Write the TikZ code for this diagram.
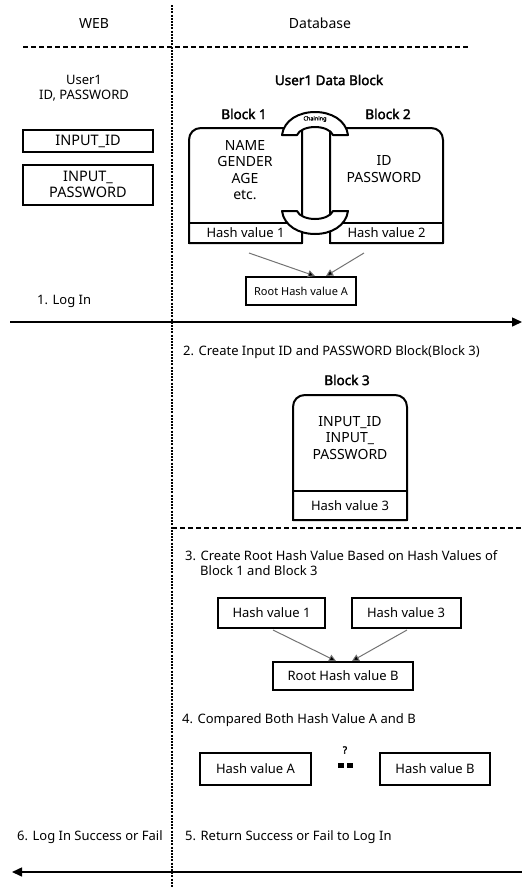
\documentclass[tikz,border=0pt]{standalone}
\usepackage{fontspec}
\setmainfont{Noto Sans}[AutoFakeBold=2.2]
\usetikzlibrary{arrows.meta}
\begin{document}
\begin{tikzpicture}[x=1pt,y=-1pt,
  txt/.style={font=\fontsize{13}{15}\selectfont, inner sep=0pt},
  head/.style={font=\fontsize{14}{16}\selectfont, inner sep=0pt},
  btxt/.style={font=\fontsize{14}{16.5}\selectfont, inner sep=0pt, align=center},
  box/.style={draw, line width=2pt, inner sep=0pt, font=\fontsize{13}{15}\selectfont, align=center},
  bigbox/.style={draw, line width=2pt, inner sep=0pt, font=\fontsize{14.5}{17}\selectfont, align=center},
  outline/.style={line width=2pt, line join=round},
  sepv/.style={line width=1.3pt, dash pattern=on 2pt off 1.2pt},
  seph/.style={line width=1.5pt, dash pattern=on 5pt off 3pt},
  flow/.style={line width=1.5pt, -{Triangle[length=10pt,width=9pt]}},
  hashar/.style={draw=black!55, line width=1pt, -{Triangle[length=7pt,width=7pt,fill=black]}},
  bold/.style={font=\bfseries\fontsize{13.5}{16}\selectfont}
]
\useasboundingbox (0,0) rectangle (522,887);

% separators
\draw[sepv] (172,5) -- (172,887);
\draw[seph] (23,47) -- (470,47);
\draw[seph] (172,528) -- (522,528);

% headers
\node[head] (web) at (94,23) {WEB};
\node[head] (db) at (320,23) {Database};

% WEB column
\node[txt, align=center, font=\fontsize{13}{15.5}\selectfont] (user) at (84,88) {User1\\ID, PASSWORD};
\node[bigbox, minimum width=130pt, minimum height=22pt] (inid) at (88,141) {INPUT\_ID};
\node[bigbox, minimum width=130pt, minimum height=40pt, font=\fontsize{14.5}{16.5}\selectfont] (inpw) at (88,184.5) {INPUT\_\\PASSWORD};

% Database: data block
\node[inner sep=0pt, bold] (udb) at (329,80) {User1 Data Block};
\node[inner sep=0pt, bold] (b1l) at (244,114) {Block 1};
\node[inner sep=0pt, bold] (b2l) at (388,114) {Block 2};

% Block 1 outline
\draw[outline] (189,243) -- (189,140) .. controls (189,133) and (194,128) .. (201,128) -- (302,128) -- (302,243) -- cycle;
% Block 2 outline
\draw[outline] (330,243) -- (330,128) -- (431,128) .. controls (438,128) and (443,133) .. (443,140) -- (443,243) -- cycle;

\node[btxt] (b1t) at (245,170) {NAME\\GENDER\\AGE\\etc.};
\node[btxt] (b2t) at (384,169) {ID\\PASSWORD};

\node[box, minimum width=113pt, minimum height=20pt] (h1) at (245.5,233) {Hash value 1};
\node[box, minimum width=113pt, minimum height=20pt] (h2) at (386.5,233) {Hash value 2};

% chaining link
\draw[outline, fill=white] (282,135) .. controls (284,120) and (299,112) .. (315,112) .. controls (331,112) and (346,120) .. (348,135)
   -- (333,135) .. controls (331,130) and (323,127) .. (315,127) .. controls (307,127) and (299,130) .. (297,135) -- cycle;
\draw[outline, fill=white] (282,211) .. controls (284,226) and (299,234) .. (315,234) .. controls (331,234) and (346,226) .. (348,211)
   -- (333,211) .. controls (331,216) and (323,219) .. (315,219) .. controls (307,219) and (299,216) .. (297,211) -- cycle;
\node[inner sep=0pt, font=\bfseries\fontsize{5.5}{5.5}\selectfont] (chain) at (315,119) {Chaining};

\node[box, minimum width=110pt, minimum height=28pt, font=\fontsize{11}{13}\selectfont] (rootA) at (301,291) {Root Hash value A};
\coordinate (sa1) at (249,253);
\coordinate (sa2) at (364,253);
\draw[hashar] (sa1) -- ([xshift=14pt]rootA.north);
\draw[hashar] (sa2) -- ([xshift=25pt]rootA.north);

% step 1
\node[txt, anchor=west] (s1) at (37,301) {1. Log In};
\coordinate (a1s) at (10,322);
\coordinate (a1e) at (522,322);
\draw[flow] (a1s) -- (a1e);

% step 2
\node[txt, anchor=west] (s2) at (183,352) {2. Create Input ID and PASSWORD Block(Block 3)};
\node[inner sep=0pt, bold] (b3l) at (347,380) {Block 3};
\draw[outline] (293,520) -- (293,407) .. controls (293,400) and (298,395) .. (305,395) -- (395,395) .. controls (402,395) and (407,400) .. (407,407) -- (407,520) -- cycle;
\node[btxt] (b3t) at (350,438) {INPUT\_ID\\INPUT\_\\PASSWORD};
\node[box, minimum width=114pt, minimum height=29pt] (h3) at (350,505.5) {Hash value 3};

% step 3
\node[txt, anchor=west, align=left] (s3) at (185,563) {3. Create Root Hash Value Based on Hash Values of\\\hspace*{15pt}Block 1 and Block 3};
\node[box, minimum width=107pt, minimum height=30pt] (hb1) at (271.5,613) {Hash value 1};
\node[box, minimum width=109pt, minimum height=30pt] (hb3) at (406,613) {Hash value 3};
\node[box, minimum width=140pt, minimum height=28pt] (rootB) at (343,676) {Root Hash value B};
\coordinate (sb1) at (273,630);
\coordinate (sb2) at (407,630);
\draw[hashar] (sb1) -- ([xshift=-7pt]rootB.north);
\draw[hashar] (sb2) -- ([xshift=9pt]rootB.north);

% step 4
\node[txt, anchor=west] (s4) at (182,720) {4. Compared Both Hash Value A and B};
\node[box, minimum width=111pt, minimum height=32pt] (hA) at (255.5,769) {Hash value A};
\node[box, minimum width=110pt, minimum height=32pt] (hB) at (435,769) {Hash value B};
\node[inner sep=0pt, font=\bfseries\fontsize{10}{10}\selectfont] (qm) at (345,750) {?};
\fill (338,763) rectangle (344,768);
\fill (347,763) rectangle (353,768);

% steps 5 and 6
\node[txt, anchor=west] (s6) at (17,837) {6. Log In Success or Fail};
\node[txt, anchor=west] (s5) at (185,837) {5. Return Success or Fail to Log In};
\coordinate (a2s) at (522,872);
\coordinate (a2e) at (12,872);
\draw[flow] (a2s) -- (a2e);
\end{tikzpicture}
\end{document}
